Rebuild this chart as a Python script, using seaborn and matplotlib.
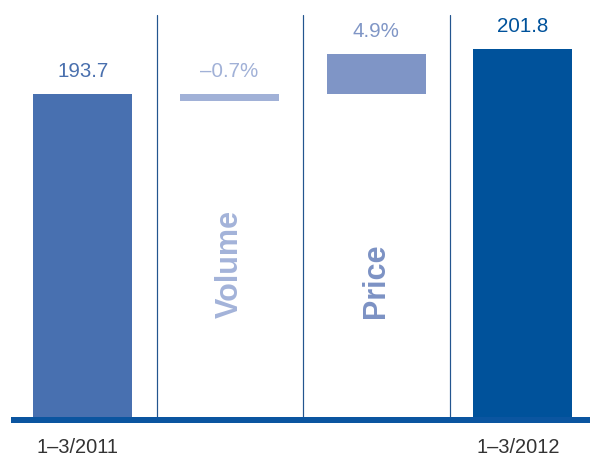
#!/usr/bin/env python3
"""Waterfall-style bridge chart: 1-3/2011 to 1-3/2012 via volume and price."""

import matplotlib
matplotlib.use("Agg")
import matplotlib.transforms as mtransforms
import seaborn as sns
from matplotlib import pyplot as plt

# Data
categories = ["1–3/2011", "Volume", "Price", "1–3/2012"]
bar_bottoms = [135.0, 192.5, 193.7, 135.0]
bar_tops = [193.7, 193.7, 200.9, 201.8]
value_labels = ["193.7", "–0.7%", "4.9%", "201.8"]
axis_labels = ["1–3/2011", "", "", "1–3/2012"]
inner_labels = ["", "Volume", "Price", ""]

bar_colors = ["#4870b0", "#a1b1d7", "#7f95c6", "#00529b"]
value_colors = ["#4a70ae", "#a1b1d7", "#8096c6", "#00529b"]
inner_colors = ["", "#a3b3d9", "#7c92c4", ""]

sns.set_theme(style="white")
plt.rcParams["font.family"] = ["Liberation Sans", "DejaVu Sans"]

DPI = 72
fig = plt.figure(figsize=(590 / DPI, 458 / DPI), dpi=DPI)
ax = fig.add_axes([0, 0, 1, 1])

heights = [t - b for t, b in zip(bar_tops, bar_bottoms)]
sns.barplot(
    ax=ax,
    x=categories,
    y=heights,
    bottom=bar_bottoms,
    color=bar_colors[0],
    width=0.675,
    errorbar=None,
    linewidth=0,
    zorder=2,
)
for patch, c in zip(ax.patches, bar_colors):
    patch.set_facecolor(c)
    patch.set_edgecolor("none")

ax.set_xlim(-0.5644, 3.4574)
ax.set_ylim(128.18, 210.62)
ax.axis("off")

# separators between categories
for xs in [0.505, 1.5, 2.5]:
    ax.plot([xs, xs], [135.0, 207.9], color="#23558f", linewidth=1.2, zorder=1)

# thick baseline
ax.plot([-0.49, 3.6], [135.0, 135.0], color="#0b55a0", linewidth=6,
        solid_capstyle="butt", zorder=3, clip_on=False)

# value labels above bars
for i, (top, txt, c) in enumerate(zip(bar_tops, value_labels, value_colors)):
    ax.annotate(txt, xy=(i, top), xytext=(0, 17), textcoords="offset points",
                ha="center", va="baseline", fontsize=20.5, color=c)

# rotated inner labels
blend = mtransforms.blended_transform_factory(ax.transData, ax.transAxes)
for i, (txt, c) in enumerate(zip(inner_labels, inner_colors)):
    if txt:
        ax.text(i, 1 - 318 / 458, txt, transform=blend, rotation=90,
                ha="center", va="bottom", fontsize=30.5, fontweight="bold", color=c)

# category labels under the baseline
for i, txt in enumerate(axis_labels):
    if txt:
        ax.annotate(txt, xy=(i, 1 - 453 / 458), xycoords=blend,
                    xytext=(-5, 0), textcoords="offset points",
                    ha="center", va="baseline", fontsize=20, color="#333333")

fig.savefig("out.png", dpi=DPI)
plt.close(fig)
